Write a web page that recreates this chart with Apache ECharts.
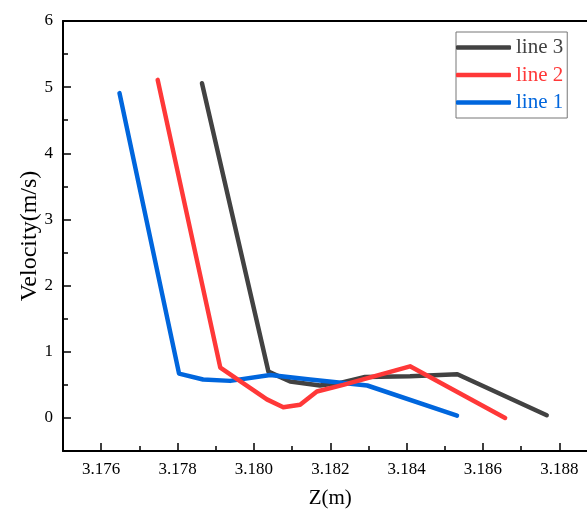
<!DOCTYPE html>
<html>
<head>
<meta charset="utf-8">
<script src="https://cdn.jsdelivr.net/npm/echarts@6/dist/echarts.min.js"></script>
<style>
html,body{margin:0;padding:0;background:#fff;}
#chart{width:587px;height:514px;}
</style>
</head>
<body>
<div id="chart"></div>
<script>
// ---- data ----
var line1X = [3.17648, 3.17804, 3.17867, 3.17938, 3.18043, 3.18147, 3.18297, 3.18532];
var line1Y = [4.91, 0.67, 0.58, 0.56, 0.65, 0.58, 0.49, 0.035];

var line2X = [3.17748, 3.17912, 3.18034, 3.18077, 3.18121, 3.18165, 3.18234, 3.18409, 3.18658];
var line2Y = [5.11, 0.76, 0.28, 0.16, 0.20, 0.40, 0.50, 0.78, 0.0];

var line3X = [3.17864, 3.18038, 3.18095, 3.18173, 3.18226, 3.18291, 3.18409, 3.18533, 3.18767];
var line3Y = [5.06, 0.70, 0.55, 0.49, 0.53, 0.62, 0.63, 0.66, 0.04];

var xMajorTicks = [3.176, 3.178, 3.180, 3.182, 3.184, 3.186, 3.188];
var xMinorTicks = [3.177, 3.179, 3.181, 3.183, 3.185, 3.187];
var yMajorTicks = [0, 1, 2, 3, 4, 5, 6];
var yMinorTicks = [0.5, 1.5, 2.5, 3.5, 4.5, 5.5];

var seriesNames = ['line 1', 'line 2', 'line 3'];
var seriesColors = ['#0066dd', '#ff3838', '#424242'];

function pairs(xs, ys) { return xs.map(function (x, i) { return [x, ys[i]]; }); }

var FONT = '"Liberation Serif", "Times New Roman", serif';
var xMin = 3.175, xMax = 3.189, yMin = -0.5, yMax = 6;

var chart = echarts.init(document.getElementById('chart'), null, {renderer: 'canvas'});

function xAx(extra) {
  return Object.assign({
    type: 'value', min: xMin, max: xMax,
    splitLine: {show: false},
    axisLine: {show: false, onZero: false},
    axisTick: {show: false},
    axisLabel: {show: false}
  }, extra);
}
function yAx(extra) {
  return Object.assign({
    type: 'value', min: yMin, max: yMax,
    splitLine: {show: false},
    axisLine: {show: false, onZero: false},
    axisTick: {show: false},
    axisLabel: {show: false}
  }, extra);
}

var gridRect = {left: 63, top: 21, right: -10.5, bottom: 63, containLabel: false, outerBoundsMode: 'none'};
var blackLine = {show: true, onZero: false, lineStyle: {color: '#000', width: 2}};

var option = {
  backgroundColor: '#ffffff',
  animation: false,
  grid: [Object.assign({}, gridRect), Object.assign({}, gridRect)],
  legend: {
    orient: 'vertical',
    left: 456, top: 32,
    padding: [5, 4, 5, 0],
    itemGap: 6.5,
    itemWidth: 55,
    itemHeight: 4.5,
    icon: 'roundRect',
    borderColor: '#777777',
    borderWidth: 1,
    textStyle: {fontFamily: FONT, fontSize: 21},
    data: [
      {name: 'line 3', textStyle: {color: seriesColors[2]}},
      {name: 'line 2', textStyle: {color: seriesColors[1]}},
      {name: 'line 1', textStyle: {color: seriesColors[0]}}
    ]
  },
  xAxis: [
    xAx({
      gridIndex: 0, position: 'bottom',
      name: 'Z(m)', nameLocation: 'middle', nameGap: 37, nameMoveOverlap: false,
      nameTextStyle: {fontFamily: FONT, fontSize: 21, color: '#000'},
      axisLine: blackLine,
      axisTick: {show: true, inside: true, length: 8, customValues: xMajorTicks, lineStyle: {color: '#000', width: 1.5}},
      axisLabel: {show: true, margin: 10, customValues: xMajorTicks, fontFamily: FONT, fontSize: 17, color: '#000',
        formatter: function (v) { return v.toFixed(3); }}
    }),
    xAx({
      gridIndex: 0, position: 'top',
      axisLine: blackLine
    }),
    xAx({
      gridIndex: 1, position: 'bottom',
      axisTick: {show: true, inside: true, length: 5, customValues: xMinorTicks, lineStyle: {color: '#000', width: 1.5}}
    })
  ],
  yAxis: [
    yAx({
      gridIndex: 0, position: 'left',
      name: 'Velocity(m/s)', nameLocation: 'middle', nameGap: 21, nameRotate: 90, nameMoveOverlap: false,
      nameTextStyle: {fontFamily: FONT, fontSize: 24, color: '#000'},
      axisLine: blackLine,
      axisTick: {show: true, inside: true, length: 8, customValues: yMajorTicks, lineStyle: {color: '#000', width: 1.5}},
      axisLabel: {show: true, margin: 10, customValues: yMajorTicks, fontFamily: FONT, fontSize: 17, color: '#000'}
    }),
    yAx({
      gridIndex: 0, position: 'right',
      axisLine: blackLine
    }),
    yAx({
      gridIndex: 1, position: 'left',
      axisTick: {show: true, inside: true, length: 5, customValues: yMinorTicks, lineStyle: {color: '#000', width: 1.5}}
    })
  ],
  series: [
    {name: seriesNames[2], type: 'line', data: pairs(line3X, line3Y), color: seriesColors[2]},
    {name: seriesNames[0], type: 'line', data: pairs(line1X, line1Y), color: seriesColors[0]},
    {name: seriesNames[1], type: 'line', data: pairs(line2X, line2Y), color: seriesColors[1]}
  ].map(function (s) {
    return Object.assign(s, {
      xAxisIndex: 0, yAxisIndex: 0,
      symbol: 'none', smooth: false,
      lineStyle: {width: 4.5, color: s.color, cap: 'round', join: 'round'}
    });
  })
};
chart.setOption(option);
</script>
</body>
</html>
